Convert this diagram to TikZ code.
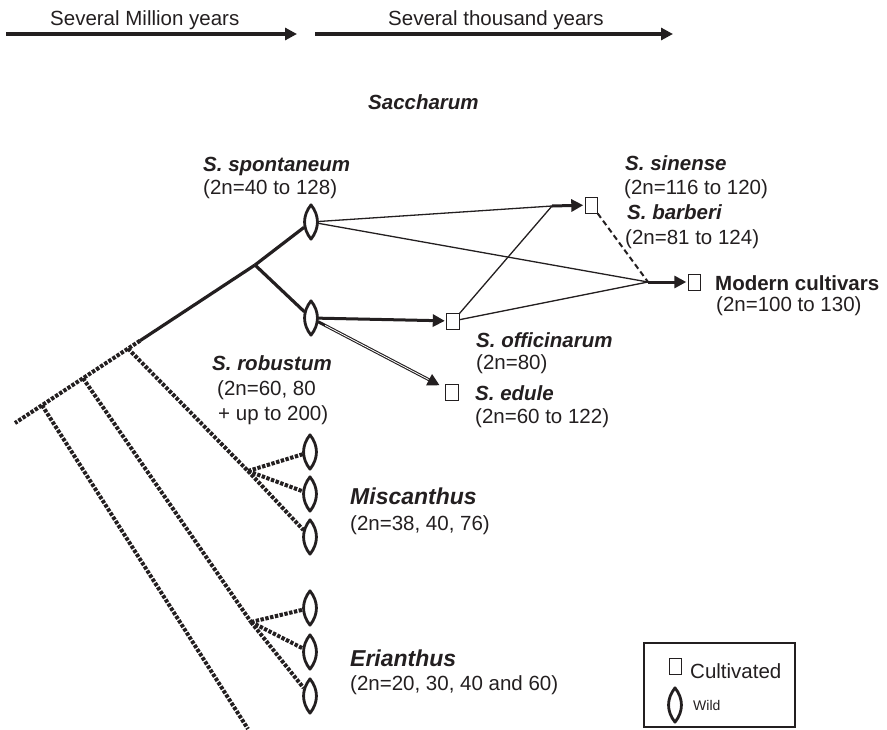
\documentclass[tikz,border=0pt]{standalone}
\usepackage{fontspec}
\setmainfont{Liberation Sans}
\usetikzlibrary{arrows.meta,shapes.geometric,calc}
\definecolor{ink}{HTML}{231F20}
\newcommand\lensdraw[1]{\draw[lens] (#1.north) .. controls ([xshift=8.6pt,yshift=-11pt]#1.north) and ([xshift=8.6pt,yshift=11pt]#1.south) .. (#1.south) .. controls ([xshift=-8.6pt,yshift=11pt]#1.south) and ([xshift=-8.6pt,yshift=-11pt]#1.north) .. (#1.north) -- cycle;}
\begin{document}
\begin{tikzpicture}[x=1pt,y=-1pt,
  lab/.style={anchor=base west, inner sep=0pt, font=\fontsize{20.5}{24}\selectfont, text=ink},
  blab/.style={lab, font=\fontsize{20.5}{24}\selectfont\bfseries\itshape},
  biglab/.style={lab, font=\fontsize{23}{27}\selectfont\bfseries\itshape},
  wild/.style={ellipse, minimum width=14pt, minimum height=34pt, inner sep=0pt},
  lens/.style={draw=ink, line width=2.8pt, line join=round},
  cult/.style={draw=ink, line width=0.9pt, fill=white, minimum width=12.5pt, minimum height=16pt, inner sep=0pt},
  branch/.style={draw=ink, line width=3.2pt},
  dotline/.style={draw=ink, line width=4pt, dash pattern=on 3.4pt off 1.5pt},
  fine/.style={draw=ink, line width=1.3pt},
  arr/.style={-{Triangle[length=12pt,width=12pt]}},
  thk/.style={draw=ink, line width=3pt, arr, shorten >=1.5pt},
  dsh/.style={draw=ink, line width=2pt, dash pattern=on 5.5pt off 3.5pt},
]
\useasboundingbox (0,0) rectangle (887,729);

% header
\coordinate (h1s) at (6,34);
\coordinate (h1e) at (297,34);
\coordinate (h2s) at (315,34);
\coordinate (h2e) at (673,34);
\draw[branch, arr] (h1s) -- (h1e);
\draw[branch, arr] (h2s) -- (h2e);
\node[lab] (t1) at (50,25) {Several Million years};
\node[lab] (t2) at (388,25) {Several thousand years};

% title
\node[blab] (sac) at (368,109) {Saccharum};

% wild nodes
\node[wild] (sp) at (311,222) {};
\node[wild] (rob) at (311,318) {};
\node[wild] (m1) at (310,452) {};
\node[wild] (m2) at (310,494) {};
\node[wild] (m3) at (310,537) {};
\node[wild] (e1) at (310,608) {};
\node[wild] (e2) at (310,652) {};
\node[wild] (e3) at (310,696) {};
\node[wild] (lw) at (675,705) {};

% cultivated nodes
\node[cult] (sin) at (591.5,205) {};
\node[cult] (mod) at (694.5,282) {};
\node[cult] (off) at (453,321) {};
\node[cult] (edu) at (452,392) {};
\node[cult] (lc) at (675.5,666) {};

% coordinates
\coordinate (J) at (255,265);
\coordinate (ts) at (140,340.7);
\coordinate (b1) at (128,348.6);
\coordinate (b2) at (83,378.2);
\coordinate (b3) at (42,405.2);
\coordinate (t0) at (15,423);
\coordinate (mj) at (248,471);
\coordinate (ej) at (251,622);
\coordinate (bend) at (248,729);
\coordinate (c1) at (552,206);
\coordinate (c2) at (648,282);
\coordinate (edtip) at (441,386);

% tree
\draw[branch] (ts) -- (J);
\draw[branch] (J) -- (sp);
\draw[branch] (J) -- (rob);
\draw[dotline] (ts) -- (t0);
\draw[dotline] (b1) -- (mj);
\draw[dotline] (b2) -- (ej);
\draw[dotline] (b3) -- (bend);
\draw[dotline] (mj) -- (m1);
\draw[dotline] (mj) -- (m2);
\draw[dotline] (mj) -- (m3);
\draw[dotline] (ej) -- (e1);
\draw[dotline] (ej) -- (e2);
\draw[dotline] (ej) -- (e3);

% crosses
\draw[fine] (sp) -- (c1);
\draw[fine] (off) -- (c1);
\draw[fine] (sp) -- (c2);
\draw[fine] (off) -- (c2);
\draw[dsh] (sin) -- (c2);
\draw[thk] (c1) -- (sin);
\draw[thk] (c2) -- (mod);
\draw[thk] (rob) -- (off);
\draw[thk] (rob) -- (edtip);
\draw[white, line width=0.8pt, shorten <=8pt, shorten >=14pt] (rob) -- (edtip);

% lenses
\foreach \n in {sp,rob,m1,m2,m3,e1,e2,e3,lw} {\lensdraw{\n}}

% labels
\node[blab] (spl) at (203,171) {S. spontaneum};
\node[lab] (spn) at (203,194) {(2n=40 to 128)};
\node[blab] (sinl) at (625,170) {S. sinense};
\node[lab] (sinn) at (624,194) {(2n=116 to 120)};
\node[blab] (barl) at (627,219) {S. barberi};
\node[lab] (barn) at (625,244) {(2n=81 to 124)};
\node[lab, font=\fontsize{20.5}{24}\selectfont\bfseries] (modl) at (715,290) {Modern cultivars};
\node[lab] (modn) at (716,311) {(2n=100 to 130)};
\node[blab] (offl) at (476,347) {S. officinarum};
\node[lab] (offn) at (476,369) {(2n=80)};
\node[blab] (robl) at (212,370) {S. robustum};
\node[lab] (robn1) at (217,395) {(2n=60, 80};
\node[lab] (robn2) at (218,420) {+ up to 200)};
\node[blab] (edul) at (475,400) {S. edule};
\node[lab] (edun) at (475,423) {(2n=60 to 122)};
\node[biglab] (misl) at (350,504) {Miscanthus};
\node[lab] (misn) at (350,530) {(2n=38, 40, 76)};
\node[biglab] (eril) at (350,666) {Erianthus};
\node[lab] (erin) at (350,690) {(2n=20, 30, 40 and 60)};

% legend
\draw[ink, line width=1.1pt] (644,643) rectangle (795,727);
\node[lab] (lct) at (690,678) {Cultivated};
\node[lab, font=\fontsize{14}{16}\selectfont] (lwt) at (693,710) {Wild};
\end{tikzpicture}
\end{document}
